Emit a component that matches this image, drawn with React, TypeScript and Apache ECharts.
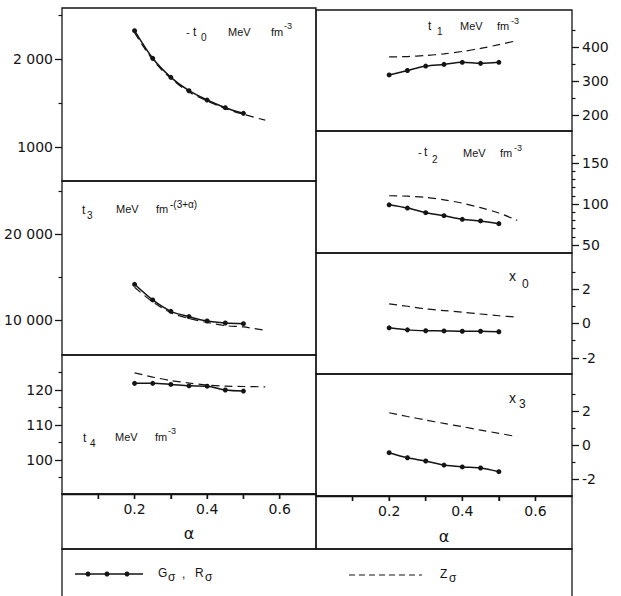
import React, { useEffect, useRef } from "react";
import * as echarts from "echarts";

// ---- data ----
const alphaSolid = [0.2, 0.25, 0.3, 0.35, 0.4, 0.45, 0.5];
const alphaDashedLeft = [0.2, 0.25, 0.3, 0.35, 0.4, 0.45, 0.5, 0.56];
const alphaDashedRight = [0.2, 0.25, 0.3, 0.35, 0.4, 0.45, 0.5, 0.55];

const t0Solid = [2322, 2008, 1792, 1640, 1534, 1447, 1383];
const t0Dashed = [2300, 1990, 1780, 1625, 1522, 1437, 1372, 1305];
const t3Solid = [14150, 12330, 11010, 10390, 9880, 9650, 9570];
const t3Dashed = [13800, 12100, 10850, 10170, 9710, 9340, 9190, 8800];
const t4Solid = [121.9, 121.9, 121.6, 121.2, 121.1, 120.0, 119.7];
const t4Dashed = [124.9, 123.7, 122.7, 122.0, 121.4, 121.1, 121.0, 120.9];
const t1Solid = [319, 332, 345, 350, 356, 353, 356];
const t1Dashed = [372, 373, 376, 381, 388, 397, 408, 420];
const t2Solid = [99, 95, 89.4, 85.7, 81.3, 79.3, 76];
const t2Dashed = [110, 109.5, 108, 105, 101, 95.5, 89, 80];
const x0Solid = [-0.25, -0.37, -0.42, -0.43, -0.45, -0.45, -0.48];
const x0Dashed = [1.14, 1.0, 0.85, 0.75, 0.66, 0.55, 0.45, 0.37];
const x3Solid = [-0.45, -0.75, -0.94, -1.18, -1.29, -1.35, -1.57];
const x3Dashed = [1.9, 1.68, 1.47, 1.27, 1.08, 0.88, 0.69, 0.49];

// tick values and labels
const t0Major = [1000, 2000];
const t0Labels = ["1000", "2 000"];
const t0Minor = [1500, 2500];
const t3Major = [10000, 20000];
const t3Labels = ["10 000", "20 000"];
const t3Minor = [15000, 25000];
const t4Major = [100, 110, 120];
const t4Labels = ["100", "110", "120"];
const t4Minor = [95, 105, 115, 125];
const t1Major = [200, 300, 400];
const t1Labels = ["200", "300", "400"];
const t1Minor = [250, 350, 450];
const t2Major = [50, 100, 150];
const t2Labels = ["50", "100", "150"];
const t2Minor = [60, 70, 80, 90, 110, 120, 130, 140, 160];
const xMajor = [-2, 0, 2];
const xLabels = ["-2", "0", "2"];
const xMinor = [-1, 1, 3];
const alphaTicks = [0.1, 0.2, 0.3, 0.4, 0.5, 0.6];
const alphaLabels = [0.2, 0.4, 0.6];

const INK = "#141414";
const FONT = "DejaVu Sans";
const TFONT = "Liberation Sans";

type Panel = {
  grid: { left: number; top: number; width: number; height: number };
  min: number;
  max: number;
  side: "left" | "right";
  major: number[];
  labels: string[];
  minor: number[];
  solid: number[];
  dashed: number[];
  dashedX: number[];
  bottom: boolean;
  nameGap?: number;
};

const panels: Panel[] = [
  { grid: { left: 62, top: 8, width: 254, height: 173 }, min: 614, max: 2580, side: "left", major: t0Major, labels: t0Labels, minor: t0Minor, solid: t0Solid, dashed: t0Dashed, dashedX: alphaDashedLeft, bottom: false },
  { grid: { left: 62, top: 181, width: 254, height: 174 }, min: 5930, max: 26160, side: "left", major: t3Major, labels: t3Labels, minor: t3Minor, solid: t3Solid, dashed: t3Dashed, dashedX: alphaDashedLeft, bottom: false },
  { grid: { left: 62, top: 355, width: 254, height: 139 }, min: 90.3, max: 130, side: "left", major: t4Major, labels: t4Labels, minor: t4Minor, solid: t4Solid, dashed: t4Dashed, dashedX: alphaDashedLeft, bottom: true, nameGap: 31 },
  { grid: { left: 316, top: 10, width: 256, height: 121 }, min: 154, max: 510, side: "right", major: t1Major, labels: t1Labels, minor: t1Minor, solid: t1Solid, dashed: t1Dashed, dashedX: alphaDashedRight, bottom: false },
  { grid: { left: 316, top: 131, width: 256, height: 122 }, min: 40.2, max: 189, side: "right", major: t2Major, labels: t2Labels, minor: t2Minor, solid: t2Solid, dashed: t2Dashed, dashedX: alphaDashedRight, bottom: false },
  { grid: { left: 316, top: 253, width: 256, height: 121 }, min: -2.93, max: 4.09, side: "right", major: xMajor, labels: xLabels, minor: xMinor, solid: x0Solid, dashed: x0Dashed, dashedX: alphaDashedRight, bottom: false },
  { grid: { left: 316, top: 374, width: 256, height: 122 }, min: -3, max: 4.18, side: "right", major: xMajor, labels: xLabels, minor: xMinor, solid: x3Solid, dashed: x3Dashed, dashedX: alphaDashedRight, bottom: true, nameGap: 32 },
];

function txt(text: string, x: number, y: number, size = 11, family = TFONT) {
  return {
    type: "text",
    x,
    y,
    style: { text, fontSize: size, fontFamily: family, fill: INK, align: "left", verticalAlign: "middle" },
  };
}

export default function App() {
  const ref = useRef<HTMLDivElement>(null);

  useEffect(() => {
    const chart = echarts.init(ref.current!, null, { renderer: "svg" });

    const grids: any[] = [];
    const xAxes: any[] = [];
    const yAxes: any[] = [];
    const series: any[] = [];

    panels.forEach((p, i) => {
      grids.push({ ...p.grid, show: true, borderColor: INK, borderWidth: 1.3, containLabel: false });
      xAxes.push({
        type: "value",
        gridIndex: i,
        position: "bottom",
        min: 0,
        max: 0.7,
        splitLine: { show: false },
        axisLine: { show: p.bottom, onZero: false, lineStyle: { color: INK, width: 1.3 } },
        axisTick: p.bottom
          ? { show: true, inside: false, length: 5, customValues: alphaTicks, lineStyle: { color: INK, width: 1.4 } }
          : { show: false },
        axisLabel: p.bottom
          ? { show: true, customValues: alphaLabels, formatter: (v: number) => v.toFixed(1), margin: 8, color: INK, fontSize: 14, fontFamily: FONT }
          : { show: false },
        name: p.bottom ? "α" : "",
        nameLocation: "middle",
        nameGap: p.nameGap ?? 30,
        nameTextStyle: { color: INK, fontSize: 16, fontFamily: FONT },
      });
      yAxes.push({
        type: "value",
        gridIndex: i,
        position: p.side,
        min: p.min,
        max: p.max,
        splitLine: { show: false },
        axisLine: { show: false, onZero: false },
        axisTick: { show: true, length: 7, customValues: p.major, lineStyle: { color: INK, width: 1.3 } },
        axisLabel: {
          show: true,
          customValues: p.major,
          formatter: (v: number) => {
            const k = p.major.findIndex((m) => Math.abs(m - v) < 1e-6);
            return k >= 0 ? p.labels[k] : "";
          },
          margin: p.side === "left" ? 9 : 10,
          color: INK,
          fontSize: 14,
          fontFamily: FONT,
        },
      });
      yAxes.push({
        type: "value",
        gridIndex: i,
        position: p.side,
        min: p.min,
        max: p.max,
        splitLine: { show: false },
        axisLine: { show: false, onZero: false },
        axisTick: { show: true, length: 3.5, customValues: p.minor, lineStyle: { color: INK, width: 1.2 } },
        axisLabel: { show: false },
      });
      series.push({
        type: "line",
        xAxisIndex: i,
        yAxisIndex: 2 * i,
        data: alphaSolid.map((a, k) => [a, p.solid[k]]),
        smooth: 0.3,
        symbol: "circle",
        symbolSize: 5,
        itemStyle: { color: INK },
        lineStyle: { color: INK, width: 1.5 },
      });
      series.push({
        type: "line",
        xAxisIndex: i,
        yAxisIndex: 2 * i,
        data: p.dashedX.map((a, k) => [a, p.dashed[k]]),
        smooth: 0.3,
        showSymbol: false,
        symbol: "none",
        lineStyle: { color: INK, width: 1.2, type: [8, 5] },
      });
      if (p.bottom) {
        // α tick marks hanging below the bottom edge of the panel
        series.push({
          type: "scatter",
          xAxisIndex: i,
          yAxisIndex: 2 * i,
          data: alphaTicks.map((a) => [a, p.min]),
          symbol: "rect",
          symbolSize: [1.4, 5],
          symbolOffset: [0, 2.5],
          clip: false,
          silent: true,
          itemStyle: { color: INK },
          z: 5,
        });
      }
    });

    const box = (x: number, y: number, w: number, h: number) => ({
      type: "rect",
      shape: { x, y, width: w, height: h },
      style: { fill: "none", stroke: INK, lineWidth: 1.3 },
    });

    const graphic: any[] = [
      box(62, 494, 254, 55),
      box(316, 496, 256, 53),
      box(62, 549, 510, 60),
      // panel titles
      txt("-", 186, 32),
      txt("t", 193, 32, 12),
      txt("0", 201, 37, 10),
      txt("MeV", 228, 31.5),
      txt("fm", 271, 31.5),
      txt("-3", 284, 26, 9),

      txt("t", 82, 210, 12),
      txt("3", 87, 215, 10),
      txt("MeV", 116, 209),
      txt("fm", 156, 209),
      txt("-(3+α)", 170, 204, 10),

      txt("t", 83, 438, 12),
      txt("4", 90, 443, 10),
      txt("MeV", 115, 437),
      txt("fm", 155, 437),
      txt("-3", 168, 431, 9),

      txt("t", 428, 26, 12),
      txt("1", 437, 31, 10),
      txt("MeV", 460, 26),
      txt("fm", 497, 26),
      txt("-3", 511, 21, 9),

      txt("-", 418, 152),
      txt("t", 424, 152, 12),
      txt("2", 432, 159, 10),
      txt("MeV", 463, 152.5),
      txt("fm", 500, 152.5),
      txt("-3", 514, 148, 9),

      txt("x", 509, 276, 14),
      txt("0", 522, 284, 12),
      txt("x", 509, 398, 14),
      txt("3", 519, 404, 12),

      // legend
      { type: "line", shape: { x1: 75, y1: 574, x2: 143, y2: 574 }, style: { stroke: INK, lineWidth: 1.5 } },
      { type: "circle", shape: { cx: 88, cy: 574, r: 2.5 }, style: { fill: INK } },
      { type: "circle", shape: { cx: 107, cy: 574, r: 2.5 }, style: { fill: INK } },
      { type: "circle", shape: { cx: 127, cy: 574, r: 2.5 }, style: { fill: INK } },
      txt("G", 158, 573, 12),
      txt("σ", 168, 577, 12),
      txt(",", 182, 574, 12),
      txt("R", 195, 573, 12),
      txt("σ", 205, 577, 12),
      { type: "line", shape: { x1: 349, y1: 575, x2: 422, y2: 575 }, style: { stroke: INK, lineWidth: 1.2, lineDash: [6, 4] } },
      txt("Z", 440, 574, 12),
      txt("σ", 449, 578, 12),
    ];

    chart.setOption({
      animation: false,
      backgroundColor: "#fff",
      grid: grids,
      xAxis: xAxes,
      yAxis: yAxes,
      series,
      graphic,
    });

    return () => chart.dispose();
  }, []);

  return (
    <div
      ref={ref}
      style={{ position: "fixed", left: 0, top: 0, width: 621, height: 596, background: "#fff" }}
    />
  );
}
